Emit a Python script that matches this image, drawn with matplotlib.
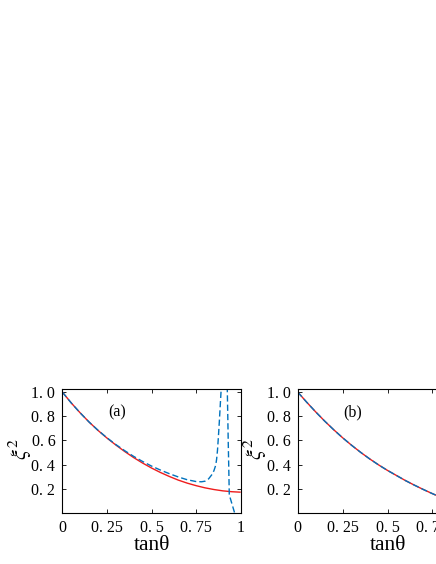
import matplotlib
matplotlib.use("Agg")
import matplotlib.pyplot as plt

plt.rcParams['font.family'] = ['Liberation Serif', 'DejaVu Serif']
plt.rcParams['mathtext.fontset'] = 'stix'

# ---- data ----
# panel (a): solid red curve
a_red_x = [0.0, 0.05, 0.10, 0.15, 0.20, 0.25, 0.30, 0.35, 0.40, 0.45, 0.50,
           0.55, 0.60, 0.65, 0.70, 0.75, 0.80, 0.85, 0.90, 0.95, 1.0]
a_red_y = [1.000, 0.910, 0.828, 0.752, 0.683, 0.620, 0.562, 0.508, 0.458, 0.413, 0.372,
           0.335, 0.302, 0.272, 0.247, 0.226, 0.208, 0.194, 0.183, 0.176, 0.172]

# panel (a): dashed blue curve
a_blue_x = [0.0, 0.05, 0.10, 0.15, 0.20, 0.25, 0.30, 0.35, 0.40, 0.45, 0.50,
            0.55, 0.60, 0.65, 0.70, 0.75, 0.78, 0.80, 0.82, 0.84, 0.85, 0.86, 0.865,
            0.87, 0.875, 0.88, 0.885, 0.89, 0.90, 0.91, 0.92, 0.925, 0.93,
            0.933, 0.936, 0.95, 0.964, 0.98]
a_blue_y = [1.000, 0.910, 0.828, 0.752, 0.684, 0.622, 0.566, 0.515, 0.468, 0.426, 0.388,
            0.355, 0.325, 0.298, 0.275, 0.260, 0.258, 0.263, 0.282, 0.320, 0.350, 0.395, 0.445,
            0.520, 0.630, 0.750, 0.880, 1.010, 1.600, 3.000, 1.800, 1.010, 0.600,
            0.380, 0.150, 0.080, 0.010, -0.150]

# panel (b): both curves coincide
b_x = [0.0, 0.05, 0.10, 0.15, 0.20, 0.25, 0.30, 0.35, 0.40, 0.45, 0.50,
       0.55, 0.60, 0.65, 0.70, 0.75, 0.80, 0.85, 0.90, 0.95, 1.0]
b_red_y = [1.000, 0.916, 0.836, 0.760, 0.689, 0.622, 0.560, 0.502, 0.448, 0.398, 0.352,
           0.310, 0.268, 0.230, 0.194, 0.160, 0.128, 0.098, 0.070, 0.044, 0.020]
b_blue_y = list(b_red_y)

x_ticks = [0, 0.25, 0.5, 0.75, 1]
x_ticklabels = ["0", "0. 25", "0. 5", "0. 75", "1"]
y_ticks = [0.2, 0.4, 0.6, 0.8, 1.0]
y_ticklabels = ["0. 2", "0. 4", "0. 6", "0. 8", "1. 0"]
panel_labels = ["(a)", "(b)"]

RED = '#ee1c1c'
BLUE = '#0072BD'

fig = plt.figure(figsize=(4.36, 5.64), dpi=100)
W, H = 436.0, 564.0
ax_a = fig.add_axes([62.3 / W, (H - 513) / H, 178.4 / W, 124 / H])
ax_b = fig.add_axes([297.7 / W, (H - 513) / H, 179.6 / W, 124 / H])

series = [
    (ax_a, a_red_x, a_red_y, a_blue_x, a_blue_y),
    (ax_b, b_x, b_red_y, b_x, b_blue_y),
]

for (ax, rx, ry, bx, by), lab in zip(series, panel_labels):
    ax.plot(rx, ry, color=RED, lw=1.0, solid_capstyle='butt')
    ax.plot(bx, by, color=BLUE, lw=1.0, linestyle=(0, (4.5, 2.2)))
    ax.set_xlim(0, 1)
    ax.set_ylim(0, 1.025)
    ax.set_xticks(x_ticks)
    ax.set_xticklabels(x_ticklabels)
    ax.set_yticks(y_ticks)
    ax.set_yticklabels(y_ticklabels)
    ax.tick_params(direction='in', top=True, right=True, length=3, width=0.6,
                   labelsize=11.5, pad=5)
    for sp in ax.spines.values():
        sp.set_linewidth(0.8)
    ax.set_xlabel("tanθ", fontsize=15.5, labelpad=0)
    ax.set_ylabel(r"$\xi^2$", fontsize=16, rotation=90)
    ax.yaxis.set_label_coords(-0.158, 0.52)
    ax.text(0.305, 0.835, lab, fontsize=11.5, ha='center', va='center')

fig.savefig("out.png", dpi=100)
